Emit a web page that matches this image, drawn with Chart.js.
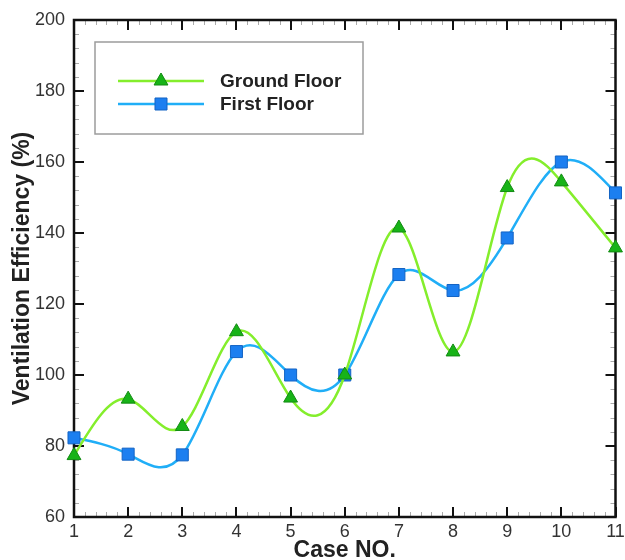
<!DOCTYPE html>
<html>
<head>
<meta charset="utf-8">
<title>Ventilation Efficiency</title>
<script src="https://cdn.jsdelivr.net/npm/chart.js@4.4.1/dist/chart.umd.min.js"></script>
<style>
  html, body { margin: 0; padding: 0; background: #fff; }
  #wrap { width: 625px; height: 560px; }
</style>
</head>
<body>
<div id="wrap"><canvas id="myChart" width="625" height="560"></canvas></div>
<script>
// data
const caseNo = [1, 2, 3, 4, 5, 6, 7, 8, 9, 10, 11];
const groundFloor = [77.3, 93.2, 85.5, 112.2, 93.5, 100, 141.4, 106.5, 152.8, 154.4, 135.8];
const firstFloor = [82.3, 77.7, 77.5, 106.6, 100, 100, 128.3, 123.8, 138.6, 160, 151.3];
const seriesNames = ['Ground Floor', 'First Floor'];
const xTicks = [1, 2, 3, 4, 5, 6, 7, 8, 9, 10, 11];
const yTicks = [60, 80, 100, 120, 140, 160, 180, 200];

const FONT = '"Liberation Sans", Arial, Helvetica, sans-serif';

const green = { line: '#84ee2c', fill: '#17b317', border: '#128a12' };
const blue = { line: '#20aef7', fill: '#1c7ff0', border: '#1464c4' };

const ctx = document.getElementById('myChart').getContext('2d');

// natural cubic spline through the point elements (instead of chart.js's own bezier tension)
function naturalSpline(points) {
  const n = points.length;
  if (n < 3) return;
  const x = points.map(p => p.x);
  const y = points.map(p => p.y);
  const h = [];
  for (let i = 0; i < n - 1; i++) h.push(x[i + 1] - x[i]);

  // tridiagonal solve for second derivatives, M[0] = M[n-1] = 0
  const M = new Array(n).fill(0);
  const a = [], b = [], c = [], d = [];
  for (let i = 1; i < n - 1; i++) {
    a.push(h[i - 1]);
    b.push(2 * (h[i - 1] + h[i]));
    c.push(h[i]);
    d.push(6 * ((y[i + 1] - y[i]) / h[i] - (y[i] - y[i - 1]) / h[i - 1]));
  }
  const m = b.length;
  for (let i = 1; i < m; i++) {
    const w = a[i] / b[i - 1];
    b[i] -= w * c[i - 1];
    d[i] -= w * d[i - 1];
  }
  M[m] = d[m - 1] / b[m - 1];
  for (let i = m - 2; i >= 0; i--) {
    M[i + 1] = (d[i] - c[i] * M[i + 2]) / b[i];
  }

  const slope = [];
  for (let i = 0; i < n - 1; i++) {
    slope.push((y[i + 1] - y[i]) / h[i] - h[i] * (2 * M[i] + M[i + 1]) / 6);
  }
  slope.push((y[n - 1] - y[n - 2]) / h[n - 2] + h[n - 2] * (M[n - 2] + 2 * M[n - 1]) / 6);

  for (let i = 0; i < n; i++) {
    const p = points[i];
    if (i < n - 1) {
      p.cp2x = x[i] + h[i] / 3;
      p.cp2y = y[i] + slope[i] * h[i] / 3;
    }
    if (i > 0) {
      p.cp1x = x[i] - h[i - 1] / 3;
      p.cp1y = y[i] - slope[i] * h[i - 1] / 3;
    }
  }
}

const splinePlugin = {
  id: 'spline',
  beforeDatasetDraw(chart, args) {
    const meta = args.meta;
    const line = meta.dataset;
    if (!line) return;
    naturalSpline(meta.data);
    line._pointsUpdated = true;
    line._path = undefined;
  }
};

// ticks pointing inward on all four sides + the box
const framePlugin = {
  id: 'frame',
  beforeDatasetsDraw(chart) {
    const c = chart.ctx;
    const a = chart.chartArea;
    const xs = chart.scales.x;
    const ys = chart.scales.y;
    c.save();

    // minor ticks
    c.strokeStyle = '#aaaaaa';
    c.lineWidth = 1;
    c.beginPath();
    for (let v = xTicks[0]; v < xTicks[xTicks.length - 1]; v += 0.2) {
      if (Math.abs(v - Math.round(v)) < 0.01) continue;
      const px = Math.round(xs.getPixelForValue(v)) + 0.5;
      c.moveTo(px, a.bottom); c.lineTo(px, a.bottom - 5);
      c.moveTo(px, a.top); c.lineTo(px, a.top + 5);
    }
    for (let v = yTicks[0]; v < yTicks[yTicks.length - 1]; v += 4) {
      if (v % 20 === 0) continue;
      const py = Math.round(ys.getPixelForValue(v)) + 0.5;
      c.moveTo(a.left, py); c.lineTo(a.left + 5, py);
      c.moveTo(a.right, py); c.lineTo(a.right - 5, py);
    }
    c.stroke();

    // major ticks
    c.strokeStyle = '#111';
    c.lineWidth = 2;
    c.beginPath();
    xTicks.forEach((v) => {
      const px = Math.round(xs.getPixelForValue(v));
      c.moveTo(px, a.bottom); c.lineTo(px, a.bottom - 10);
      c.moveTo(px, a.top); c.lineTo(px, a.top + 10);
    });
    yTicks.forEach((v) => {
      const py = Math.round(ys.getPixelForValue(v));
      c.moveTo(a.left, py); c.lineTo(a.left + 10, py);
      c.moveTo(a.right, py); c.lineTo(a.right - 10, py);
    });
    c.stroke();

    c.lineWidth = 2.5;
    c.strokeStyle = '#111';
    c.strokeRect(a.left, a.top, a.right - a.left, a.bottom - a.top);
    c.restore();
  }
};

// boxed legend up in the left corner
const boxLegend = {
  id: 'boxLegend',
  afterDraw(chart) {
    const c = chart.ctx;
    c.save();
    c.fillStyle = '#fff';
    c.fillRect(95, 42, 268, 92);
    c.strokeStyle = '#9c9c9c';
    c.lineWidth = 1.5;
    c.strokeRect(95, 42, 268, 92);

    const rows = [81, 104];
    chart.data.datasets.forEach((ds, i) => {
      const y = rows[i];
      c.strokeStyle = ds.borderColor;
      c.lineWidth = 2.5;
      c.beginPath();
      c.moveTo(118, y); c.lineTo(204, y);
      c.stroke();
      c.fillStyle = ds.pointBackgroundColor;
      c.strokeStyle = ds.pointBorderColor;
      c.lineWidth = 1;
      Chart.helpers.drawPoint(c, { pointStyle: ds.pointStyle, radius: ds.pointRadius, borderWidth: 1, rotation: 0 }, 161, y);
      c.fillStyle = '#222';
      c.font = 'bold 19px ' + FONT;
      c.textBaseline = 'middle';
      c.fillText(ds.label, 220, y + 1);
    });
    c.restore();
  }
};

const myChart = new Chart(ctx, {
  type: 'line',
  data: {
    datasets: [{
      label: seriesNames[0],
      data: caseNo.map((x, i) => ({ x: x, y: groundFloor[i] })),
      borderColor: green.line,
      borderWidth: 2.5,
      tension: 0.4,
      pointStyle: 'triangle',
      pointRadius: 8,
      pointBackgroundColor: green.fill,
      pointBorderColor: green.border,
      pointBorderWidth: 1,
      clip: false
    }, {
      label: seriesNames[1],
      data: caseNo.map((x, i) => ({ x: x, y: firstFloor[i] })),
      borderColor: blue.line,
      borderWidth: 2.5,
      tension: 0.4,
      pointStyle: 'rect',
      pointRadius: 8.5,
      pointBackgroundColor: blue.fill,
      pointBorderColor: blue.border,
      pointBorderWidth: 1,
      clip: false
    }]
  },
  options: {
    responsive: false,
    animation: false,
    layout: { padding: { top: 20, right: 8, left: 0, bottom: 0 } },
    plugins: {
      legend: { display: false },
      tooltip: { enabled: false }
    },
    scales: {
      x: {
        type: 'linear',
        min: 1,
        max: 11,
        grid: { display: false, drawTicks: false },
        border: { display: false },
        ticks: {
          stepSize: 1,
          padding: 4,
          color: '#333',
          font: { family: FONT, size: 18 }
        },
        title: {
          display: true,
          text: 'Case NO.',
          color: '#222',
          padding: { top: 0, bottom: 0 },
          font: { family: FONT, size: 23, weight: 'bold', lineHeight: 0.8 }
        },
        afterFit(s) {
          s.height = 43;
          s.paddingLeft = 0;
          s.paddingRight = 0;
        }
      },
      y: {
        min: 60,
        max: 200,
        grid: { display: false, drawTicks: false },
        border: { display: false },
        ticks: {
          stepSize: 20,
          padding: 9,
          color: '#333',
          font: { family: FONT, size: 18 }
        },
        title: {
          display: true,
          text: 'Ventilation Efficiency (%)',
          color: '#222',
          padding: { top: 9, bottom: 0 },
          font: { family: FONT, size: 23, weight: 'bold' }
        },
        afterFit(s) {
          s.width = 74;
          s.paddingTop = 0;
          s.paddingBottom = 0;
        }
      }
    }
  },
  plugins: [framePlugin, splinePlugin, boxLegend]
});
</script>
</body>
</html>
